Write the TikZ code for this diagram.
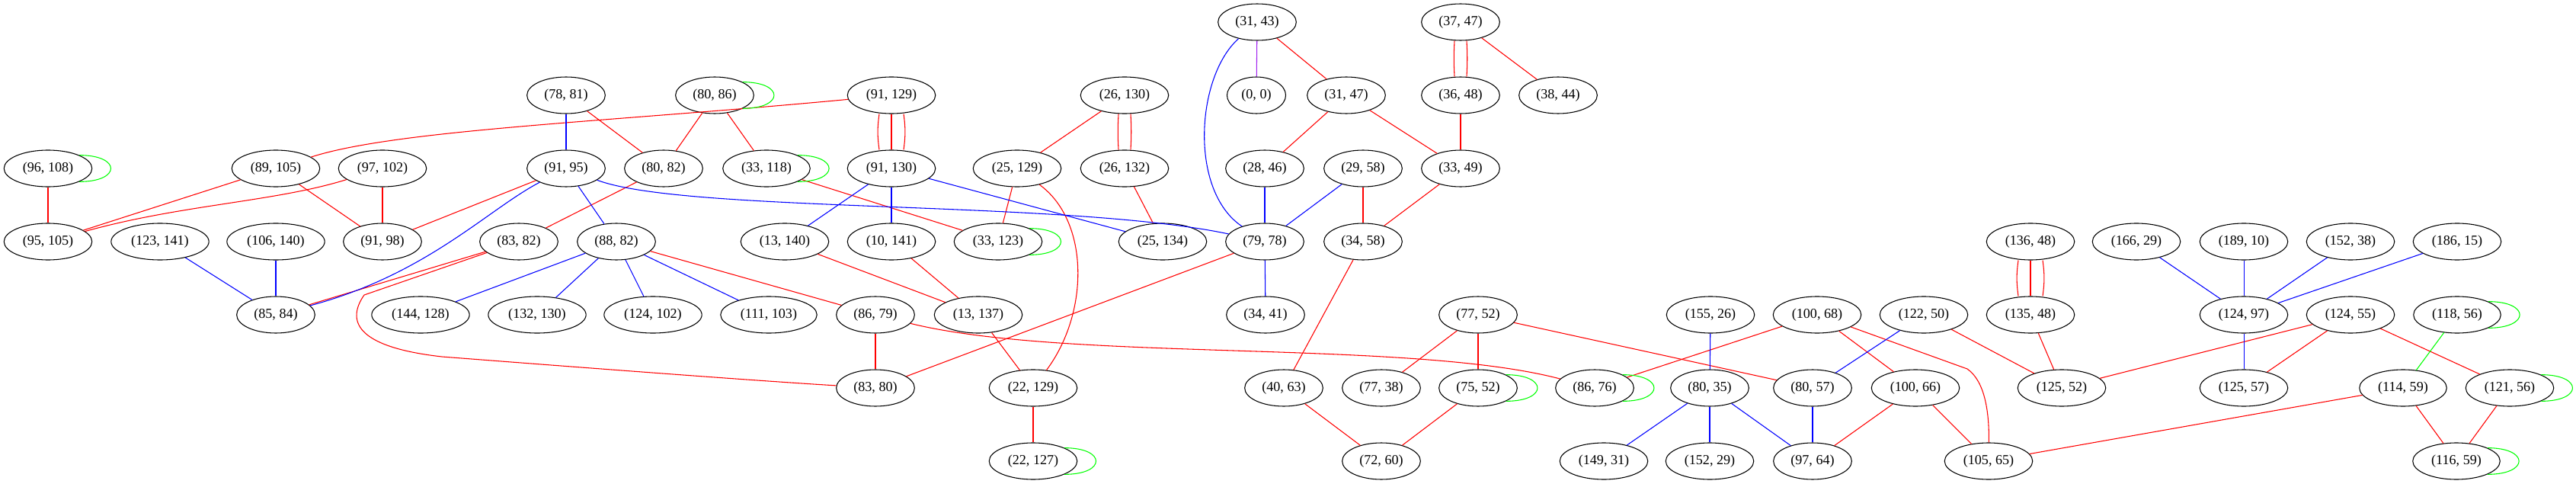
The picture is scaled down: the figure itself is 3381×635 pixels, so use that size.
\documentclass[tikz,border=0pt]{standalone}
\usepackage{fontspec}
\setmainfont{Liberation Serif}
\usetikzlibrary{shapes.geometric}
\definecolor{gvpurple}{RGB}{160,32,240}
\begin{document}
\begin{tikzpicture}[x=0.75pt, y=-0.75pt,
  vert/.style={draw, ellipse, line width=0.8pt, minimum height=36pt, inner xsep=5.7pt, inner ysep=1pt, font=\fontsize{13.6pt}{16pt}\selectfont},
  redge/.style={draw=red, line width=0.8pt},
  bedge/.style={draw=blue, line width=0.8pt},
  gedge/.style={draw=green, line width=0.8pt},
  pedge/.style={draw=gvpurple, line width=0.8pt}]
\useasboundingbox (0,0) rectangle (3381,635);
% rank 0
\node[vert] (31-43) at (1650,29) {(31, 43)};
\node[vert] (37-47) at (1917,29) {(37, 47)};
% rank 1
\node[vert] (78-81) at (743,125) {(78, 81)};
\node[vert] (80-86) at (938,125) {(80, 86)};
\node[vert] (91-129) at (1170,125) {(91, 129)};
\node[vert] (26-130) at (1476,125) {(26, 130)};
\node[vert] (0-0) at (1649,125) {(0, 0)};
\node[vert] (31-47) at (1767,125) {(31, 47)};
\node[vert] (36-48) at (1917,125) {(36, 48)};
\node[vert] (38-44) at (2045,125) {(38, 44)};
% rank 2
\node[vert] (96-108) at (63,221) {(96, 108)};
\node[vert] (89-105) at (362,221) {(89, 105)};
\node[vert] (97-102) at (502,221) {(97, 102)};
\node[vert] (91-95) at (743,221) {(91, 95)};
\node[vert] (80-82) at (871,221) {(80, 82)};
\node[vert] (33-118) at (1006,221) {(33, 118)};
\node[vert] (91-130) at (1170,221) {(91, 130)};
\node[vert] (25-129) at (1335,221) {(25, 129)};
\node[vert] (26-132) at (1476,221) {(26, 132)};
\node[vert] (28-46) at (1660,221) {(28, 46)};
\node[vert] (29-58) at (1789,221) {(29, 58)};
\node[vert] (33-49) at (1917,221) {(33, 49)};
% rank 3
\node[vert] (95-105) at (63,317) {(95, 105)};
\node[vert] (123-141) at (210,317) {(123, 141)};
\node[vert] (106-140) at (362,317) {(106, 140)};
\node[vert] (91-98) at (502,317) {(91, 98)};
\node[vert] (83-82) at (681,317) {(83, 82)};
\node[vert] (88-82) at (809,317) {(88, 82)};
\node[vert] (13-140) at (1030,317) {(13, 140)};
\node[vert] (10-141) at (1170,317) {(10, 141)};
\node[vert] (33-123) at (1310,317) {(33, 123)};
\node[vert] (25-134) at (1526,317) {(25, 134)};
\node[vert] (79-78) at (1660,317) {(79, 78)};
\node[vert] (34-58) at (1789,317) {(34, 58)};
\node[vert] (136-48) at (2665,317) {(136, 48)};
\node[vert] (166-29) at (2804,317) {(166, 29)};
\node[vert] (189-10) at (2945,317) {(189, 10)};
\node[vert] (152-38) at (3085,317) {(152, 38)};
\node[vert] (186-15) at (3225,317) {(186, 15)};
% rank 4
\node[vert] (85-84) at (362,413) {(85, 84)};
\node[vert] (144-128) at (552,413) {(144, 128)};
\node[vert] (132-130) at (705,413) {(132, 130)};
\node[vert] (124-102) at (857,413) {(124, 102)};
\node[vert] (111-103) at (1009,413) {(111, 103)};
\node[vert] (86-79) at (1149,413) {(86, 79)};
\node[vert] (13-137) at (1284,413) {(13, 137)};
\node[vert] (34-41) at (1661,413) {(34, 41)};
\node[vert] (77-52) at (1940,413) {(77, 52)};
\node[vert] (155-26) at (2245,413) {(155, 26)};
\node[vert] (100-68) at (2385,413) {(100, 68)};
\node[vert] (122-50) at (2525,413) {(122, 50)};
\node[vert] (135-48) at (2665,413) {(135, 48)};
\node[vert] (124-97) at (2945,413) {(124, 97)};
\node[vert] (124-55) at (3085,413) {(124, 55)};
\node[vert] (118-56) at (3225,413) {(118, 56)};
% rank 5
\node[vert] (83-80) at (1149,509) {(83, 80)};
\node[vert] (22-129) at (1356,509) {(22, 129)};
\node[vert] (40-63) at (1685,509) {(40, 63)};
\node[vert] (77-38) at (1813,509) {(77, 38)};
\node[vert] (75-52) at (1940,509) {(75, 52)};
\node[vert] (86-76) at (2093,509) {(86, 76)};
\node[vert] (80-35) at (2244,509) {(80, 35)};
\node[vert] (80-57) at (2379,509) {(80, 57)};
\node[vert] (100-66) at (2514,509) {(100, 66)};
\node[vert] (125-52) at (2706,509) {(125, 52)};
\node[vert] (125-57) at (2945,509) {(125, 57)};
\node[vert] (114-59) at (3154,509) {(114, 59)};
\node[vert] (121-56) at (3294,509) {(121, 56)};
% rank 6
\node[vert] (22-127) at (1356,605) {(22, 127)};
\node[vert] (72-60) at (1813,605) {(72, 60)};
\node[vert] (149-31) at (2105,605) {(149, 31)};
\node[vert] (152-29) at (2244,605) {(152, 29)};
\node[vert] (97-64) at (2379,605) {(97, 64)};
\node[vert] (105-65) at (2610,605) {(105, 65)};
\node[vert] (116-59) at (3224,605) {(116, 59)};
% red edges
\path[redge] (96-108) -- (95-105);
\path[redge] (89-105) -- (95-105);
\path[redge] (97-102) .. controls (360,265) and (240,268) .. (95-105);
\path[redge] (89-105) -- (91-98);
\path[redge] (97-102) -- (91-98);
\path[redge] (91-95) -- (91-98);
\path[redge] (89-105) .. controls (520,170) and (800,160) .. (91-129);
\path[redge] (78-81) -- (80-82);
\path[redge] (80-86) -- (80-82);
\path[redge] (80-86) -- (33-118);
\path[redge] (80-82) -- (83-82);
\path[redge] (83-82) -- (85-84);
\path[redge] (83-82) -- (478,387) .. controls (455,420) and (465,455) .. (580,468) .. controls (800,485) and (1000,500) .. (83-80);
\path[redge] (33-118) -- (33-123);
\path[redge] (88-82) -- (86-79);
\path[redge] (91-129) -- (91-130);
\path[redge] ([xshift=-12pt]91-129.south) to[bend right=8] ([xshift=-12pt]91-130.north);
\path[redge] ([xshift=12pt]91-129.south) to[bend left=8] ([xshift=12pt]91-130.north);
\path[redge] (26-130) -- (25-129);
\path[redge] ([xshift=-6pt]26-130.south) to[bend right=3] ([xshift=-6pt]26-132.north);
\path[redge] ([xshift=6pt]26-130.south) to[bend left=3] ([xshift=6pt]26-132.north);
\path[redge] (25-129) -- (33-123);
\path[redge] (25-129) .. controls (1430,290) and (1430,410) .. (22-129);
\path[redge] (26-132) -- (25-134);
\path[redge] (31-43) -- (31-47);
\path[redge] (31-47) -- (28-46);
\path[redge] (31-47) -- (33-49);
\path[redge] (29-58) -- (34-58);
\path[redge] (33-49) -- (34-58);
\path[redge] ([xshift=-6pt]37-47.south) to[bend right=3] ([xshift=-6pt]36-48.north);
\path[redge] ([xshift=6pt]37-47.south) to[bend left=3] ([xshift=6pt]36-48.north);
\path[redge] (37-47) -- (38-44);
\path[redge] (36-48) -- (33-49);
\path[redge] (10-141) -- (13-137);
\path[redge] (13-140) -- (13-137);
\path[redge] (79-78) -- (83-80);
\path[redge] (86-79) -- (83-80);
\path[redge] (86-79) .. controls (1400,475) and (1850,445) .. (86-76);
\path[redge] (13-137) -- (22-129);
\path[redge] (22-129) -- (22-127);
\path[redge] (34-58) -- (40-63);
\path[redge] (40-63) -- (72-60);
\path[redge] (77-52) -- (77-38);
\path[redge] (77-52) -- (75-52);
\path[redge] (75-52) -- (72-60);
\path[redge] (77-52) -- (80-57);
\path[redge] (86-76) -- (100-68);
\path[redge] (100-68) -- (100-66);
\path[redge] (100-68) -- (2582,484) .. controls (2605,500) and (2611,540) .. (105-65);
\path[redge] (100-66) -- (97-64);
\path[redge] (100-66) -- (105-65);
\path[redge] (122-50) -- (125-52);
\path[redge] (136-48) -- (135-48);
\path[redge] ([xshift=-12pt]136-48.south) to[bend right=8] ([xshift=-12pt]135-48.north);
\path[redge] ([xshift=12pt]136-48.south) to[bend left=8] ([xshift=12pt]135-48.north);
\path[redge] (135-48) -- (125-52);
\path[redge] (125-52) -- (124-55);
\path[redge] (105-65) -- (114-59);
\path[redge] (124-55) -- (125-57);
\path[redge] (124-55) -- (121-56);
\path[redge] (114-59) -- (116-59);
\path[redge] (121-56) -- (116-59);
% blue edges
\path[bedge] (123-141) -- (85-84);
\path[bedge] (106-140) -- (85-84);
\path[bedge] (91-95) .. controls (640,275) and (560,360) .. (85-84);
\path[bedge] (78-81) -- (91-95);
\path[bedge] (91-95) -- (88-82);
\path[bedge] (91-95) .. controls (900,280) and (1400,262) .. (79-78);
\path[bedge] (13-140) -- (91-130);
\path[bedge] (88-82) -- (144-128);
\path[bedge] (88-82) -- (132-130);
\path[bedge] (88-82) -- (124-102);
\path[bedge] (88-82) -- (111-103);
\path[bedge] (91-130) -- (10-141);
\path[bedge] (91-130) -- (25-134);
\path[bedge] (31-43) .. controls (1570,100) and (1560,250) .. (79-78);
\path[bedge] (28-46) -- (79-78);
\path[bedge] (29-58) -- (79-78);
\path[bedge] (79-78) -- (34-41);
\path[bedge] (155-26) -- (80-35);
\path[bedge] (80-35) -- (149-31);
\path[bedge] (80-35) -- (152-29);
\path[bedge] (80-35) -- (97-64);
\path[bedge] (122-50) -- (80-57);
\path[bedge] (80-57) -- (97-64);
\path[bedge] (166-29) -- (124-97);
\path[bedge] (189-10) -- (124-97);
\path[bedge] (152-38) -- (124-97);
\path[bedge] (186-15) -- (124-97);
\path[bedge] (124-97) -- (125-57);
% purple and green edges
\path[pedge] (31-43) -- (0-0);
\path[gedge] (118-56) -- (114-59);
\path[gedge] (96-108.north east) .. controls +(55,0) and +(55,0) .. (96-108.south east);
\path[gedge] (80-86.north east) .. controls +(55,0) and +(55,0) .. (80-86.south east);
\path[gedge] (33-118.north east) .. controls +(55,0) and +(55,0) .. (33-118.south east);
\path[gedge] (33-123.north east) .. controls +(55,0) and +(55,0) .. (33-123.south east);
\path[gedge] (22-127.north east) .. controls +(55,0) and +(55,0) .. (22-127.south east);
\path[gedge] (75-52.north east) .. controls +(55,0) and +(55,0) .. (75-52.south east);
\path[gedge] (86-76.north east) .. controls +(55,0) and +(55,0) .. (86-76.south east);
\path[gedge] (118-56.north east) .. controls +(55,0) and +(55,0) .. (118-56.south east);
\path[gedge] (121-56.north east) .. controls +(55,0) and +(55,0) .. (121-56.south east);
\path[gedge] (116-59.north east) .. controls +(55,0) and +(55,0) .. (116-59.south east);
\end{tikzpicture}
\end{document}
